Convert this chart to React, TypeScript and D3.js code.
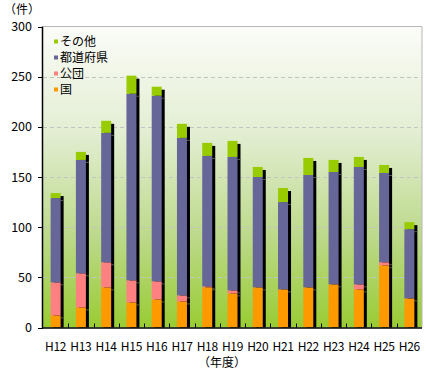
import React from "react";
import * as d3 from "d3";

const categories = ["H12","H13","H14","H15","H16","H17","H18","H19","H20","H21","H22","H23","H24","H25","H26"];
const kuni = [12,20,40,25,28,26,40,34,40,38,40,43,38,62,29];
const kodan = [33,34,25,22,18,6,1,3,0,0,0,0,5,3,0];
const todofuken = [84,113,129,186,185,157,130,133,110,87,112,112,117,89,69];
const sonota = [5,8,12,18,9,14,13,16,10,14,17,12,10,8,7];
const yTicks = [0,50,100,150,200,250,300];

const seriesNames = ["国","公団","都道府県","その他"];
const seriesColors = ["#ff9900","#ff8080","#666699","#99cc00"];

const W = 426, H = 377;
const L = 43, R = 422, T = 26.5, B = 327.5;
const font = "'Noto Sans CJK JP', 'Noto Sans', sans-serif";

export default function App() {
  const x = d3.scaleBand<string>().domain(categories).range([L, R]).padding(0);
  const y = d3.scaleLinear().domain([0, 300]).range([B, T]);
  const rows = categories.map((c, i) => ({ cat: c, s0: kuni[i], s1: kodan[i], s2: todofuken[i], s3: sonota[i] }));
  const stack = d3.stack<any>().keys(["s0","s1","s2","s3"])(rows);
  const bw = 10;
  const totals = rows.map(r => r.s0 + r.s1 + r.s2 + r.s3);

  return (
    <div style={{ position: "absolute", left: 0, top: 0 }}>
      <svg width={W} height={H} style={{ display: "block", background: "#fff" }}>
        <defs>
          <linearGradient id="bg" x1="0" y1="0" x2="0" y2="1">
            <stop offset="0%" stopColor="#fbfcf8" />
            <stop offset="35%" stopColor="#e3eed3" />
            <stop offset="70%" stopColor="#bcd98a" />
            <stop offset="100%" stopColor="#99cc33" />
          </linearGradient>
          <clipPath id="plot"><rect x={L} y={T} width={R - L} height={B - T} /></clipPath>
        </defs>
        <rect x={L} y={T} width={R - L} height={B - T} fill="url(#bg)" />
        {yTicks.filter(t => t > 0 && t < 300).map(t => (
          <line key={t} x1={L} x2={R} y1={Math.round(y(t)) + 0.5} y2={Math.round(y(t)) + 0.5}
            stroke="#c4c4c4" strokeDasharray="4,3" />
        ))}
        <line x1={L} x2={R} y1={T} y2={T} stroke="#b8b8b8" />
        <line x1={R} x2={R} y1={T} y2={B} stroke="#b8b8b8" />
        <g clipPath="url(#plot)">
          {categories.map((c, i) => {
            const cx = x(c)! + x.bandwidth() / 2;
            const x0 = cx - bw / 2;
            const top = y(totals[i]);
            return (
              <g key={"sh" + c}>
                <rect x={x0 + 3} y={top + 3} width={bw} height={B - top} fill="#000" />
                {stack.slice(0, 3).map((s, k) => {
                  const v = s[i][1];
                  const hasNext = stack.slice(k + 1).some(ss => ss[i][1] - ss[i][0] > 0);
                  if (s[i][1] - s[i][0] <= 0 || !hasNext) return null;
                  return <line key={k} x1={x0 + bw} x2={x0 + bw + 3} y1={y(v) + 2.5} y2={y(v) + 2.5} stroke="#555" />;
                })}
              </g>
            );
          })}
          {stack.map((s, k) => (
            <g key={k} fill={seriesColors[k]}>
              {s.map((d, i) => {
                const cx = x(categories[i])! + x.bandwidth() / 2;
                const h = y(d[0]) - y(d[1]);
                if (h <= 0) return null;
                return <rect key={i} x={cx - bw / 2} y={y(d[1])} width={bw} height={h} />;
              })}
            </g>
          ))}
        </g>
        {/* axes */}
        <line x1={L - 0.5} x2={L - 0.5} y1={T} y2={B + 1} stroke="#000" strokeWidth={1.5} />
        <line x1={L - 1} x2={R} y1={B + 0.5} y2={B + 0.5} stroke="#000" strokeWidth={1.5} />
        {yTicks.map(t => (
          <g key={t}>
            <line x1={L - 5} x2={L} y1={Math.round(y(t)) + 0.5} y2={Math.round(y(t)) + 0.5} stroke="#000" />
            <text x={32} y={y(t)} dy="0.36em" textAnchor="end" fontFamily={font} fontSize={12.5} fill="#000">{t}</text>
          </g>
        ))}
        {categories.slice(1).map(c => (
          <line key={c} x1={Math.round(x(c)!) + 0.5} x2={Math.round(x(c)!) + 0.5} y1={B - 4} y2={B} stroke="#000" />
        ))}
        {categories.map(c => (
          <text key={c} x={x(c)! + x.bandwidth() / 2} y={351} textAnchor="middle" fontFamily={font} fontSize={12} letterSpacing={-0.3} fill="#000">{c}</text>
        ))}
        <text x={4} y={14} fontFamily={font} fontSize={12} fill="#000">（件）</text>
        <text x={222} y={367} textAnchor="middle" fontFamily={font} fontSize={12} fill="#000">（年度）</text>
        {/* legend */}
        {[3, 2, 1, 0].map((k, j) => (
          <g key={k} transform={`translate(54, ${42 + j * 16})`}>
            <rect x={0} y={-2.5} width={4} height={4} fill={seriesColors[k]} />
            <text x={6} y={0} dy="0.36em" fontFamily={font} fontSize={12} fill="#000">{seriesNames[k]}</text>
          </g>
        ))}
      </svg>
    </div>
  );
}
